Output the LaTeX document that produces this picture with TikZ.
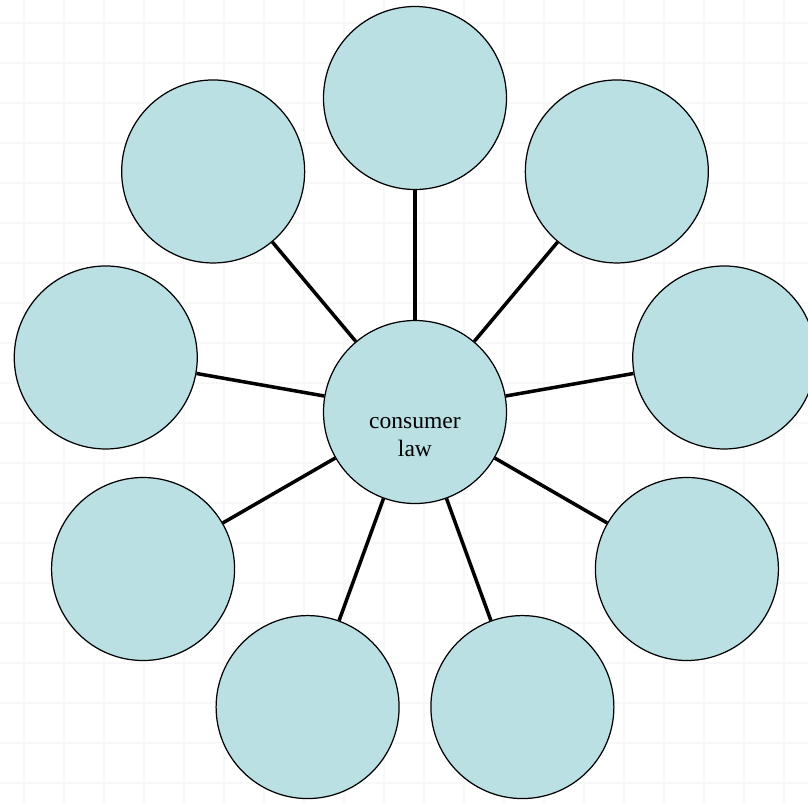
\documentclass[tikz,border=0pt]{standalone}
\usepackage{fontspec}
\setmainfont{Liberation Serif}
\usepackage{tikz}

\definecolor{bubblefill}{HTML}{BBE0E3}
\definecolor{gridgray}{HTML}{F8F8F8}

\tikzset{
	bubble/.style={shape=circle, draw=black, line width=0.7pt, fill=bubblefill, minimum size=3.66cm, inner sep=0pt},
	spoke/.style={draw=black, line width=2pt}
}

\begin{document}
\begin{tikzpicture}
	\useasboundingbox (-8.3,-7.8) rectangle (7.86,8.24);
	\clip (-8.3,-7.8) rectangle (7.86,8.24);
	\fill[white] (-8.3,-7.8) rectangle (7.86,8.24);
	\begin{scope}[shift={(0.18,0.58)}]
		\draw[gridgray, line width=0.8pt] (-8.8,-8.8) grid[step=0.8] (8.0,8.0);
	\end{scope}
	
	\node[bubble, label={[font=\fontsize{13.4}{16}\selectfont, align=center, yshift=-0.5cm]center:consumer\\law}] (law) at (0,0) {};
	
	\node[bubble] (1) at (90:6.28) {};
	\node[bubble] (2) at (130:6.28) {};
	\node[bubble] (3) at (170:6.28) {};
	\node[bubble] (4) at (210:6.28) {};
	\node[bubble] (5) at (250:6.28) {};
	\node[bubble] (6) at (290:6.28) {};
	\node[bubble] (7) at (330:6.28) {};
	\node[bubble] (8) at (10:6.28) {};
	\node[bubble] (9) at (50:6.28) {};
	
	\path [spoke] (law) edge (1);
	\path [spoke] (law) edge (2);
	\path [spoke] (law) edge (3);
	\path [spoke] (law) edge (4);
	\path [spoke] (law) edge (5);
	\path [spoke] (law) edge (6);
	\path [spoke] (law) edge (7);
	\path [spoke] (law) edge (8);
	\path [spoke] (law) edge (9);
\end{tikzpicture}
\end{document}
